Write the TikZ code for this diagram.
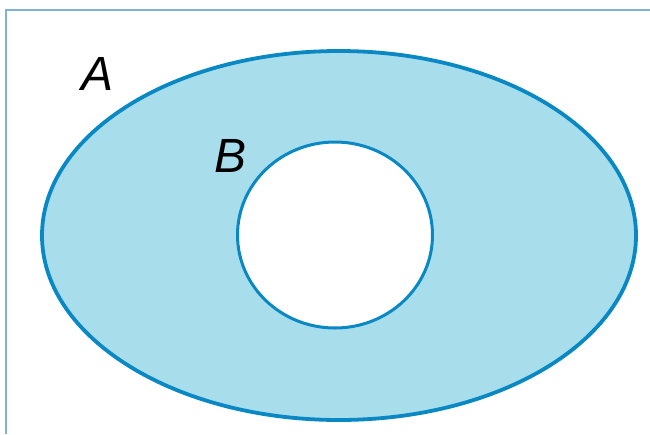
\documentclass[tikz,border=0pt]{standalone}
\usepackage{fontspec}
\setsansfont{Liberation Sans}
\usepackage{xcolor}
\usetikzlibrary{positioning}
\definecolor{cSetLine}{HTML}{0A88C4}
\definecolor{cSetFill}{HTML}{A8DEEC}
\definecolor{cFrame}{HTML}{7FB3D5}
\tikzset{
  frameLine/.style={draw=cFrame, line width=1.6pt},
  setOuter/.style={draw=cSetLine, fill=cSetFill, line width=3.8pt},
  setInner/.style={draw=cSetLine, fill=white, line width=3pt},
  setLbl/.style={font=\sffamily\itshape\fontsize{48}{56}\selectfont, text=black, inner sep=0pt},
}

\begin{document}
\begin{tikzpicture}[x=1pt, y=-1pt]
\useasboundingbox (0,0) rectangle (650,434);

% ========== FRAME ==========
\coordinate (fBL) at (6,434);
\coordinate (fTL) at (6,10);
\coordinate (fTR) at (650,10);
\draw[frameLine] (fBL) -- (fTL) -- (fTR);

% ========== SETS ==========
\coordinate (cA) at (339,235.5);
\coordinate (cB) at (335,235);
\draw[setOuter] (cA) ellipse [x radius=297, y radius=184.5];
\draw[setInner] (cB) ellipse [x radius=97.5, y radius=93];

% ========== LABELS ==========
\node[setLbl] (lblA) at (98,74) {A};
\node[setLbl] (lblB) at (231,156) {B};

\end{tikzpicture}
\end{document}
